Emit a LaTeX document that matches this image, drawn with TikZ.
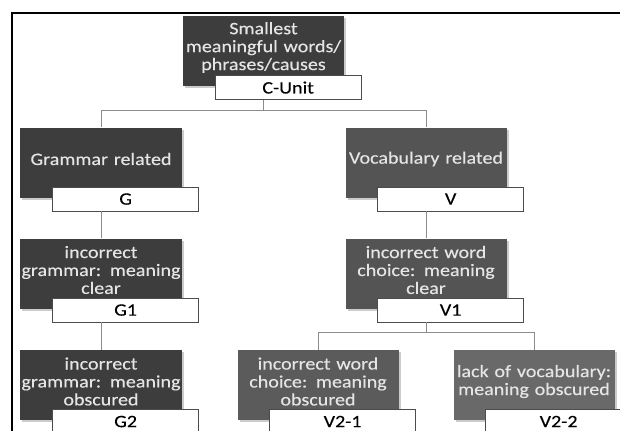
\documentclass[tikz,border=0pt]{standalone}
\usepackage{fontspec}
\setmainfont{Carlito}[FakeStretch=1.15, FakeBold=0.3]
\usetikzlibrary{shadows}

\definecolor{boxA}{HTML}{3D3D3D}
\definecolor{boxB}{HTML}{545454}
\definecolor{boxC}{HTML}{5B5B5B}
\definecolor{boxD}{HTML}{696969}
\definecolor{linegray}{HTML}{8C8C8C}

\tikzset{
  cat/.style={fill=#1, text=white!90!black, minimum width=161bp, minimum height=70bp,
    text width=160bp, align=center, inner sep=0pt,
    execute at end node={\par\vspace*{7bp}},
    font=\fontsize{17.5}{18}\selectfont,
    drop shadow={shadow xshift=2bp, shadow yshift=-2bp, fill=black, opacity=.2}},
  tag/.style={draw=black!70, fill=white, line width=0.7bp, minimum width=146bp,
    minimum height=24bp, inner sep=0pt, font=\fontsize{17.5}{18}\selectfont, anchor=north west},
  link/.style={draw=linegray, line width=0.8bp}
}

\begin{document}
\begin{tikzpicture}[x=1bp, y=-1bp]
            \useasboundingbox (0,0) rectangle (620,430);
            % page frame
            \draw[line width=1.7bp] (12,432) -- (12,13) -- (622,13);

            % category boxes
            \node[cat=boxA] (top) at (263.5,51) {Smallest\\meaningful words/\\phrases/causes};
            \node[cat=boxA] (gram) at (101,162.5) {Grammar related};
            \node[cat=boxB] (voc) at (426,162.5) {Vocabulary related};
            \node[cat=boxA] (g1) at (101,273.5) {incorrect\\grammar: meaning\\clear};
            \node[cat=boxB] (v1) at (426,273.5) {incorrect word\\choice: meaning\\clear};
            \node[cat=boxA] (g2) at (101,385) {incorrect\\grammar: meaning\\obscured};
            \node[cat=boxC] (v21) at (318,385) {incorrect word\\choice: meaning\\obscured};
            \node[cat=boxD] (v22) at (534,385) {lack of vocabulary:\\meaning obscured};

            % code labels
            \node[tag] (topL) at ([xshift=32bp,yshift=11bp]top.south west) {C-Unit};
            \node[tag] (gramL) at ([xshift=32bp,yshift=11bp]gram.south west) {G};
            \node[tag] (vocL) at ([xshift=32bp,yshift=11bp]voc.south west) {V};
            \node[tag] (g1L) at ([xshift=32bp,yshift=11bp]g1.south west) {G1};
            \node[tag] (v1L) at ([xshift=32bp,yshift=11bp]v1.south west) {V1};
            \node[tag] (g2L) at ([xshift=32bp,yshift=11bp]g2.south west) {G2};
            \node[tag] (v21L) at ([xshift=32bp,yshift=11bp]v21.south west) {V2-1};
            \node[tag] (v22L) at ([xshift=32bp,yshift=11bp]v22.south west) {V2-2};

            % connectors
            \draw[link] (topL.south -| top.south) -- ++(0,10) -| (gram.north);
            \draw[link] (topL.south -| top.south) -- ++(0,10) -| (voc.north);
            \draw[link] (gramL.south -| gram.south) -- (g1.north);
            \draw[link] (vocL.south -| voc.south) -- (v1.north);
            \draw[link] (g1L.south -| g1.south) -- (g2.north);
            \draw[link] (v1L.south -| v1.south) -- ++(0,10) -| (v21.north);
            \draw[link] (v1L.south -| v1.south) -- ++(0,10) -| (v22.north);
        \end{tikzpicture}
\end{document}
